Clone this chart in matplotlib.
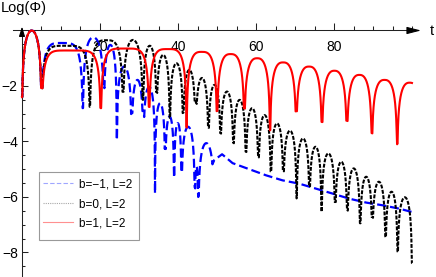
import numpy as np
import matplotlib
matplotlib.use("Agg")
import matplotlib.pyplot as plt
from matplotlib.lines import Line2D
from matplotlib.patches import Rectangle

plt.rcParams['font.family'] = ['Liberation Sans', 'DejaVu Sans']
plt.rcParams['lines.scale_dashes'] = False

# ---------------- data ----------------
t_end = 100.0

# b = 1 (red): times / values of the cusps (minima) and the arch maxima between them
red_dip_t = [0.0, 5.0, 20.2, 32.6, 42.2, 50.0, 57.0, 63.6, 70.3, 76.9, 83.3, 89.7, 96.2, 102.6]
red_dip_v = [-2.4, -2.07, -2.8, -2.75, -3.5, -2.9, -2.8, -3.6, -2.9, -3.3, -3.25, -3.7, -4.1, -2.1]
red_peak_v = [0.0, -0.72, -0.65, -0.67, -0.77, -0.85, -1.0, -1.15, -1.3, -1.45, -1.6, -1.78, -1.88]

# b = 0 (black)
black_dip_t = [0.0, 5.0, 17.4, 25.9, 31.0, 34.5, 37.9, 41.3, 44.5, 47.8, 50.9, 54.2, 57.4,
               60.6, 63.8, 67.0, 70.4, 73.7, 76.8, 80.3, 83.4, 86.7, 89.8, 93.2, 96.3, 100.0]
black_dip_v = [-2.4, -2.07, -2.75, -2.2, -2.5, -2.2, -3.15, -2.97, -2.56, -3.5, -3.7, -4.05, -4.37,
               -4.55, -5.09, -5.03, -6.05, -5.57, -6.53, -6.17, -6.47, -6.95, -6.71, -7.43, -7.97, -8.39]
black_peak_v = [0.0, -0.55, -0.35, -0.34, -0.55, -0.88, -1.18, -1.42, -1.71, -1.96, -2.2, -2.5,
                -2.8, -3.05, -3.35, -3.61, -3.89, -4.19, -4.43, -4.73, -4.97, -5.27, -5.45, -5.81, -6.01]

# b = -1 (blue): oscillating part, then smooth tail
blue_dip_t = [0.0, 5.0, 15.6, 21.0, 24.3, 28.1, 31.1, 34.1, 36.7, 39.0, 40.9, 44.3, 45.2, 49.3]
blue_dip_v = [-2.4, -2.07, -2.8, -2.0, -3.95, -2.98, -2.9, -5.87, -4.2, -5.3, -5.09, -5.65, -6.0, -4.67]
blue_peak_v = [0.0, -0.45, -0.25, -0.52, -1.3, -1.78, -2.03, -2.62, -3.1, -3.34, -3.47, -4.9, -4.06]
blue_tail_t = [49.3, 51.3, 54.0, 58.3, 62.6, 66.8, 71.1, 75.4, 79.7, 83.9, 88.2, 92.5, 96.7, 100.0]
blue_tail_v = [-4.67, -4.46, -4.78, -5.0, -5.22, -5.4, -5.52, -5.7, -5.88, -6.06, -6.2, -6.3, -6.42, -6.54]

labels = ["b=\u22121, L=2", "b=0, L=2", "b=1, L=2"]
x_major = [20, 40, 60, 80]
y_major = [-2, -4, -6, -8]


def arches(dip_t, dip_v, peak_v, tmax, k=0.85, npts=400):
    """Log-amplitude arches between consecutive cusps."""
    ts, vs = [], []
    for i in range(len(peak_v)):
        t0, t1 = dip_t[i], dip_t[i + 1]
        w = t1 - t0
        s = np.linspace(0.0, 1.0, npts)
        n = max(2.0, w / 2.5)
        g = 1.0 - np.abs(1.0 - 2.0 * s) ** n
        with np.errstate(divide='ignore'):
            y = peak_v[i] + k * np.log(g)
        floor = dip_v[i] * (1 - s) + dip_v[i + 1] * s
        y = np.maximum(y, floor)
        t = t0 + s * w
        m = t <= tmax
        ts.append(t[m])
        vs.append(y[m])
    return np.concatenate(ts), np.concatenate(vs)


# ---------------- figure ----------------
W, H = 436, 277
fig = plt.figure(figsize=(W / 100, H / 100), dpi=100)
ax = fig.add_axes([0, 0, 1, 1])
ax.set_xlim(-5.64, 106.15)
ax.set_ylim(-8.883, 1.099)
ax.patch.set_alpha(0)

axis_col = '#222222'
for sp in ['top', 'right']:
    ax.spines[sp].set_visible(False)
ax.spines['bottom'].set_position(('data', 0))
ax.spines['left'].set_position(('data', 0))
ax.spines['bottom'].set_bounds(-2.3, 101.5)
ax.spines['left'].set_bounds(-8.883, 0.05)
for sp in ['bottom', 'left']:
    ax.spines[sp].set_color(axis_col)
    ax.spines[sp].set_linewidth(0.75)

ax.set_xticks(x_major)
ax.set_xticks([v for v in range(5, 101, 5) if v not in x_major], minor=True)
ax.set_yticks(y_major)
ax.set_yticks([v / 2 for v in range(-17, 0) if v / 2 not in y_major], minor=True)
ax.tick_params(axis='x', which='both', direction='in', colors=axis_col, width=0.75,
               labelsize=10, pad=7, labelcolor='black')
ax.tick_params(axis='x', which='major', length=4.8)
ax.tick_params(axis='x', which='minor', length=2.9)
ax.tick_params(axis='y', which='both', direction='in', colors=axis_col, width=0.75,
               labelsize=10, pad=3, labelcolor='black')
ax.tick_params(axis='y', which='major', length=4.1)
ax.tick_params(axis='y', which='minor', length=2.4)
for lab in ax.get_xticklabels() + ax.get_yticklabels():
    lab.set_zorder(0)

# arrows
ax.annotate('', xy=(102.3, 0), xytext=(99.0, 0),
            arrowprops=dict(arrowstyle='-|>,head_length=0.86,head_width=0.22',
                            mutation_scale=10, color='black', lw=0.75,
                            shrinkA=0, shrinkB=0), annotation_clip=False)
ax.annotate('', xy=(0, 0.14), xytext=(0, -0.1),
            arrowprops=dict(arrowstyle='-|>,head_length=0.58,head_width=0.18',
                            mutation_scale=10, color='black', lw=0.75,
                            shrinkA=0, shrinkB=0), annotation_clip=False)

# curves
bt, bv = arches(blue_dip_t, blue_dip_v, blue_peak_v, t_end)
bt = np.concatenate([bt, blue_tail_t[1:]])
bv = np.concatenate([bv, blue_tail_v[1:]])
ax.plot(bt, bv, color='#0000ff', lw=1.6, dashes=(6.5, 2.9), zorder=3, clip_on=False)

kt, kv = arches(black_dip_t, black_dip_v, black_peak_v, t_end)
ax.plot(kt, kv, color='black', lw=1.5, dashes=(2.8, 1.1), zorder=4, clip_on=False)

rt, rv = arches(red_dip_t, red_dip_v, red_peak_v, t_end)
ax.plot(rt, rv, color='#ff0000', lw=1.5, zorder=5, clip_on=False)

# axis labels
fig.text(1 / W, 1 - 8 / H, 'Log(\u03a6)', fontsize=10.5, ha='left', va='center')
fig.text(432 / W, 1 - 31 / H, 't', fontsize=10.5, ha='center', va='center')

# legend box and legend
fig.patches.append(Rectangle((39.3 / W, 1 - 240.3 / H), 100 / W, 68.3 / H,
                             transform=fig.transFigure, facecolor='white',
                             edgecolor='#999999', lw=0.8, zorder=6))
handles = [Line2D([], [], color='#9fa6ff', lw=0.8, dashes=(3.2, 1.6)),
           Line2D([], [], color='#a8a8a8', lw=0.8, dashes=(0.8, 0.8)),
           Line2D([], [], color='#ff9090', lw=0.8)]
leg = fig.legend(handles, labels, loc='upper left',
                 bbox_to_anchor=(43.3 / W, 1 - 178.5 / H), frameon=False,
                 fontsize=8.5, handlelength=2.55, handletextpad=0.5,
                 labelspacing=0.64, borderpad=0, borderaxespad=0)
leg.set_zorder(7)

fig.savefig('out.png', dpi=100)
